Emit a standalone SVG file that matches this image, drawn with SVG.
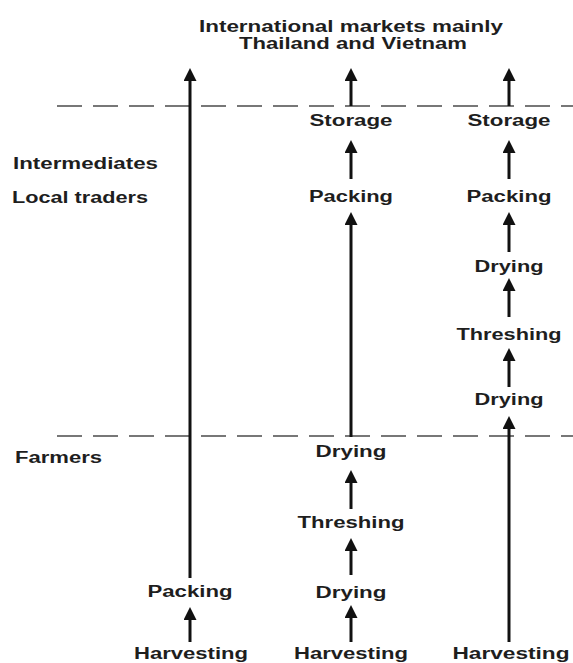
<svg xmlns="http://www.w3.org/2000/svg" width="573" height="663" viewBox="0 0 573 663">
<style>
  text { font-family: "Liberation Sans", Arial, sans-serif; font-weight: bold; font-size: 16px; fill: #1e1e1e; text-anchor: middle; }
  text.lft { text-anchor: start; }
  .arrow { stroke: #111; stroke-width: 3; fill: none; marker-end: url(#head); }
  .dash { stroke: #777; stroke-width: 2; stroke-dasharray: 25 11; fill: none; }
</style>
<defs>
  <marker id="head" markerUnits="userSpaceOnUse" markerWidth="14" markerHeight="14" refX="3" refY="6.5" orient="auto" viewBox="0 0 14 14">
    <path d="M0,0 L13,6.5 L0,13 Z" fill="#111"/>
  </marker>
</defs>
<rect width="573" height="663" fill="#fff"/>
<g id="dividers">
  <line class="dash" x1="57" y1="106" x2="573" y2="106"/>
  <line class="dash" x1="57" y1="436" x2="573" y2="436"/>
</g>
<g id="connectors">
  <line class="arrow" x1="190" y1="578" x2="190" y2="78"/>
  <line class="arrow" x1="190" y1="642" x2="190" y2="617"/>
  <line class="arrow" x1="351" y1="106" x2="351" y2="78"/>
  <line class="arrow" x1="351" y1="179" x2="351" y2="150"/>
  <line class="arrow" x1="351" y1="437" x2="351" y2="222"/>
  <line class="arrow" x1="351" y1="509" x2="351" y2="480"/>
  <line class="arrow" x1="351" y1="575" x2="351" y2="548"/>
  <line class="arrow" x1="351" y1="642" x2="351" y2="615"/>
  <line class="arrow" x1="509" y1="106" x2="509" y2="78"/>
  <line class="arrow" x1="509" y1="179" x2="509" y2="150"/>
  <line class="arrow" x1="509" y1="252" x2="509" y2="222"/>
  <line class="arrow" x1="509" y1="317" x2="509" y2="288"/>
  <line class="arrow" x1="509" y1="387" x2="509" y2="358"/>
  <line class="arrow" x1="509" y1="642" x2="509" y2="426"/>
</g>
<g id="title">
  <text x="351" y="32" textLength="304" lengthAdjust="spacingAndGlyphs">International markets mainly</text>
  <text x="353" y="49" textLength="228" lengthAdjust="spacingAndGlyphs">Thailand and Vietnam</text>
</g>
<g id="labels">
  <text class="lft" x="13" y="169" textLength="145" lengthAdjust="spacingAndGlyphs">Intermediates</text>
  <text class="lft" x="12" y="203" textLength="136" lengthAdjust="spacingAndGlyphs">Local traders</text>
  <text class="lft" x="15" y="463" textLength="87" lengthAdjust="spacingAndGlyphs">Farmers</text>
</g>
<g id="col1-packing"><text x="190" y="597" textLength="85" lengthAdjust="spacingAndGlyphs">Packing</text></g>
<g id="col1-harvesting"><text x="191" y="659" textLength="114" lengthAdjust="spacingAndGlyphs">Harvesting</text></g>
<g id="col2-storage"><text x="351" y="126" textLength="83" lengthAdjust="spacingAndGlyphs">Storage</text></g>
<g id="col2-packing"><text x="351" y="202" textLength="84" lengthAdjust="spacingAndGlyphs">Packing</text></g>
<g id="col2-drying2"><text x="351" y="457" textLength="71" lengthAdjust="spacingAndGlyphs">Drying</text></g>
<g id="col2-threshing"><text x="351" y="528" textLength="107" lengthAdjust="spacingAndGlyphs">Threshing</text></g>
<g id="col2-drying1"><text x="351" y="598" textLength="71" lengthAdjust="spacingAndGlyphs">Drying</text></g>
<g id="col2-harvesting"><text x="351" y="659" textLength="114" lengthAdjust="spacingAndGlyphs">Harvesting</text></g>
<g id="col3-storage"><text x="509" y="126" textLength="83" lengthAdjust="spacingAndGlyphs">Storage</text></g>
<g id="col3-packing"><text x="509" y="202" textLength="85" lengthAdjust="spacingAndGlyphs">Packing</text></g>
<g id="col3-drying2"><text x="509" y="272" textLength="69" lengthAdjust="spacingAndGlyphs">Drying</text></g>
<g id="col3-threshing"><text x="509" y="340" textLength="105" lengthAdjust="spacingAndGlyphs">Threshing</text></g>
<g id="col3-drying1"><text x="509" y="405" textLength="69" lengthAdjust="spacingAndGlyphs">Drying</text></g>
<g id="col3-harvesting"><text x="511" y="659" textLength="117" lengthAdjust="spacingAndGlyphs">Harvesting</text></g>
</svg>
